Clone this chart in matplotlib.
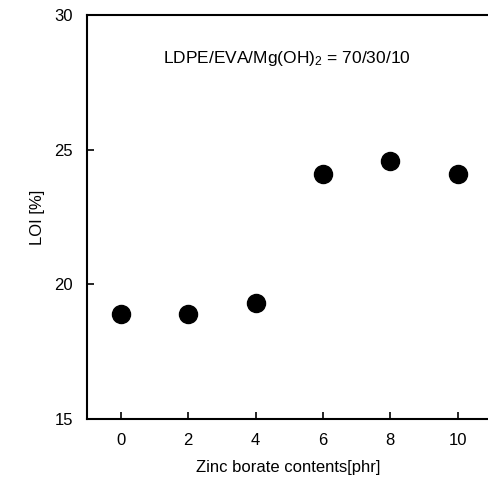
import matplotlib
matplotlib.use("Agg")
import matplotlib.pyplot as plt

zinc_borate = [0, 2, 4, 6, 8, 10]
loi = [18.9, 18.9, 19.3, 24.1, 24.6, 24.1]

plt.rcParams['font.family'] = ['Liberation Sans', 'DejaVu Sans']
plt.rcParams['mathtext.fontset'] = 'custom'
plt.rcParams['mathtext.rm'] = 'Liberation Sans'
plt.rcParams['mathtext.default'] = 'regular'

fig = plt.figure(figsize=(4.89, 4.88), dpi=100)
ax = fig.add_axes([0.178, 0.1414, 0.822, 0.8276])

ax.plot(zinc_borate, loi, 'o', color='black', markersize=13)

ax.set_xlim(-1, 10.93)
ax.set_ylim(15, 30)
ax.set_xticks([0, 2, 4, 6, 8, 10])
ax.set_yticks([15, 20, 25, 30])
ax.tick_params(direction='in', length=5, width=1.2, labelsize=12, pad=10)
for s in ['left', 'bottom', 'top']:
    ax.spines[s].set_linewidth(1.5)
ax.spines['right'].set_visible(False)

ax.text(1.25, 28.4, 'LDPE/EVA/Mg(OH)$_2$ = 70/30/10', ha='left', va='center', fontsize=12.5)

ax.set_xlabel('Zinc borate contents[phr]', fontsize=12, labelpad=9)
ax.set_ylabel('LOI [%]', fontsize=12, labelpad=7)

fig.savefig('out.png', dpi=100)
